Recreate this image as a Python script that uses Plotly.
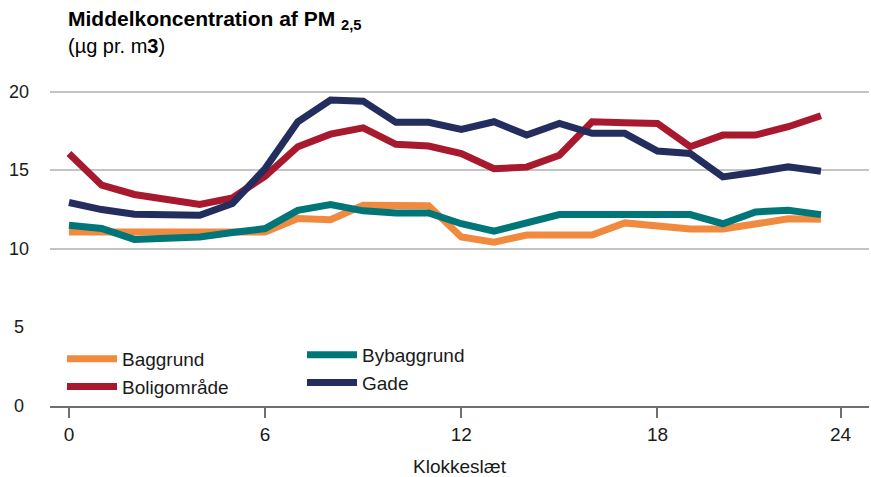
import plotly.graph_objects as go

# ---------------- data ----------------
hours = list(range(24))

baggrund = [11.07, 11.08, 11.08, 11.10, 11.10, 11.10, 11.07, 11.93, 11.86, 12.77, 12.77, 12.74,
            10.75, 10.43, 10.88, 10.88, 10.88, 11.65, 11.45, 11.26, 11.26, 11.60, 11.91, 11.88]
bybaggrund = [11.50, 11.30, 10.60, 10.67, 10.75, 11.04, 11.29, 12.45, 12.82, 12.42, 12.28, 12.28,
              11.60, 11.13, 11.65, 12.18, 12.18, 12.18, 12.18, 12.18, 11.60, 12.35, 12.46, 12.18]
boligomraade = [16.07, 14.05, 13.46, 13.12, 12.82, 13.24, 14.62, 16.50, 17.30, 17.70, 16.65, 16.54,
                16.07, 15.10, 15.20, 15.96, 18.09, 18.02, 17.98, 16.50, 17.24, 17.24, 17.77, 18.47]
gade = [12.95, 12.50, 12.20, 12.17, 12.14, 12.88, 15.11, 18.09, 19.47, 19.40, 18.05, 18.05,
        17.60, 18.09, 17.24, 17.98, 17.35, 17.35, 16.22, 16.07, 14.58, 14.88, 15.22, 14.94]

series_names = ["Baggrund", "Bybaggrund", "Boligområde", "Gade"]
series_values = [baggrund, bybaggrund, boligomraade, gade]
series_colors = ["#F08A3F", "#007679", "#A8192E", "#232D5E"]
series_legend = ["legend", "legend2", "legend", "legend2"]

y_tick_values = [0, 5, 10, 15, 20]
y_grid_values = [10, 15, 20]
x_tick_values = [0, 6, 12, 18, 23.6]
x_tick_labels = ["0", "6", "12", "18", "24"]

title_text = "<b>Middelkoncentration af PM <sub>2,5</sub></b>"
subtitle_text = "(µg pr. m<b>3</b>)"
x_title = "Klokkeslæt"

# ---------------- figure ----------------
W, H = 871, 477
ML, MR, MT, MB = 50, 2, 76, 71
PW = W - ML - MR
PH = H - MT - MB
FONT = "Liberation Sans, Arial, sans-serif"
TXT = "#1a1a1a"
FS = 19

fig = go.Figure()
for name, vals, col, lg in zip(series_names, series_values, series_colors, series_legend):
    fig.add_trace(go.Scatter(
        x=hours, y=vals, name=name, mode="lines",
        line=dict(color=col, width=7),
        legend=lg,
    ))

def px_to_paper_x(px):
    return (px - ML) / PW

def px_to_paper_y(py):
    return (H - MB - py) / PH

annotations = []
for v in y_tick_values:
    annotations.append(dict(
        x=px_to_paper_x(19), xref="paper", y=v, yref="y",
        text=str(v), showarrow=False, xanchor="center", yanchor="middle",
        font=dict(family=FONT, size=18, color=TXT),
    ))
annotations.append(dict(
    x=px_to_paper_x(66), xref="paper", y=px_to_paper_y(20), yref="paper",
    text=title_text, showarrow=False, xanchor="left", yanchor="middle",
    font=dict(family=FONT, size=21, color="#000000"),
))
annotations.append(dict(
    x=px_to_paper_x(66), xref="paper", y=px_to_paper_y(46), yref="paper",
    text=subtitle_text, showarrow=False, xanchor="left", yanchor="middle",
    font=dict(family=FONT, size=20, color="#000000"),
))

legend_common = dict(
    orientation="v", yanchor="top", xanchor="left",
    font=dict(family=FONT, size=FS, color=TXT),
    bgcolor="rgba(0,0,0,0)", itemwidth=50, tracegroupgap=0,
)

fig.update_layout(
    width=W, height=H,
    margin=dict(l=ML, r=MR, t=MT, b=MB),
    plot_bgcolor="white", paper_bgcolor="white",
    font=dict(family=FONT, size=FS, color=TXT),
    showlegend=True,
    legend=dict(x=px_to_paper_x(62), y=px_to_paper_y(340), **legend_common),
    legend2=dict(x=px_to_paper_x(302), y=px_to_paper_y(336), **legend_common),
    annotations=annotations,
    xaxis=dict(
        range=[-0.58, 24.47],
        tickvals=x_tick_values, ticktext=x_tick_labels,
        showline=True, linecolor="#6f6f6f", linewidth=2,
        ticks="outside", ticklen=10, tickwidth=1.5, tickcolor="#6f6f6f",
        showgrid=False, zeroline=False, automargin=False,
        tickfont=dict(family=FONT, size=FS, color=TXT),
        title=dict(text=x_title, font=dict(family=FONT, size=FS, color=TXT), standoff=21),
    ),
    yaxis=dict(
        range=[0, 21],
        tickvals=y_grid_values, showticklabels=False,
        showgrid=True, gridcolor="#c4c4c4", gridwidth=1.5,
        zeroline=False, showline=False, automargin=False,
    ),
)

fig.write_html("out.html", config={"displayModeBar": False})

# remove the browser's default page margin so the figure sits at the window's corner
with open("out.html", "r", encoding="utf-8") as f:
    html = f.read()
html = html.replace("<head>", "<head><style>html,body{margin:0;padding:0;}</style>", 1)
with open("out.html", "w", encoding="utf-8") as f:
    f.write(html)
